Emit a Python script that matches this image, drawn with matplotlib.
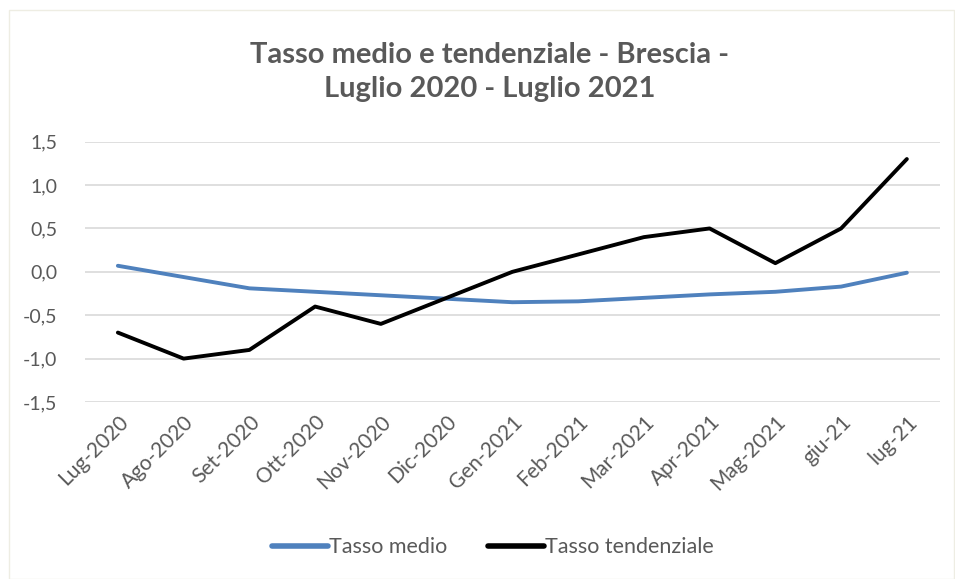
import matplotlib
matplotlib.use("Agg")
import matplotlib.pyplot as plt
from matplotlib.ticker import FuncFormatter

months = ["Lug-2020", "Ago-2020", "Set-2020", "Ott-2020", "Nov-2020", "Dic-2020",
          "Gen-2021", "Feb-2021", "Mar-2021", "Apr-2021", "Mag-2021", "giu-21", "lug-21"]
tasso_medio = [0.07, -0.06, -0.19, -0.23, -0.27, -0.31, -0.35, -0.34, -0.30, -0.26, -0.23, -0.17, -0.01]
tasso_tendenziale = [-0.7, -1.0, -0.9, -0.4, -0.6, -0.3, 0.0, 0.2, 0.4, 0.5, 0.1, 0.5, 1.3]
y_ticks = [-1.5, -1.0, -0.5, 0.0, 0.5, 1.0, 1.5]

plt.rcParams["font.family"] = ["Lato", "DejaVu Sans"]
grey = "#595959"

fig = plt.figure(figsize=(9.55, 5.79), dpi=100)
ax = fig.add_axes([0.089, 0.3057, 0.895, 0.4496])

x = range(len(months))
ax.plot(x, tasso_medio, color="#4F81BD", lw=2.8, label="Tasso medio", solid_capstyle="round")
ax.plot(x, tasso_tendenziale, color="black", lw=2.8, label="Tasso tendenziale", solid_capstyle="round")

ax.set_xlim(-0.5, len(months) - 0.5)
ax.set_ylim(-1.5, 1.5)
ax.set_yticks(y_ticks)
ax.yaxis.set_major_formatter(FuncFormatter(lambda v, _: f"{v:.1f}".replace(".", ",")))
ax.set_xticks(list(x))
ax.set_xticklabels(months, rotation=45, ha="right", rotation_mode="anchor")
ax.tick_params(axis="y", length=0, labelsize=14, colors=grey, pad=20)
ax.tick_params(axis="x", length=0, labelsize=15, colors=grey, pad=7)
ax.grid(axis="y", color="#D9D9D9", lw=1.2)
ax.set_axisbelow(True)
for s in ax.spines.values():
    s.set_visible(False)

fig.text(0.513, 0.876, "Tasso medio e tendenziale - Brescia -\nLuglio 2020 - Luglio 2021",
         ha="center", va="center", fontsize=21, fontweight="bold", color=grey, linespacing=1.4)

leg = ax.legend(loc="center", bbox_to_anchor=(0.477, -0.558), ncol=2, frameon=False,
                fontsize=15.5, labelcolor=grey, handlelength=2.6, handletextpad=0.05,
                columnspacing=1.9)
for line in leg.get_lines():
    line.set_linewidth(4)

border = plt.Rectangle((0.009, 0.0), 0.99, 0.983, transform=fig.transFigure,
                       fill=False, edgecolor="#EEEDE3", lw=1)
fig.add_artist(border)

fig.savefig("out.png", dpi=100)
